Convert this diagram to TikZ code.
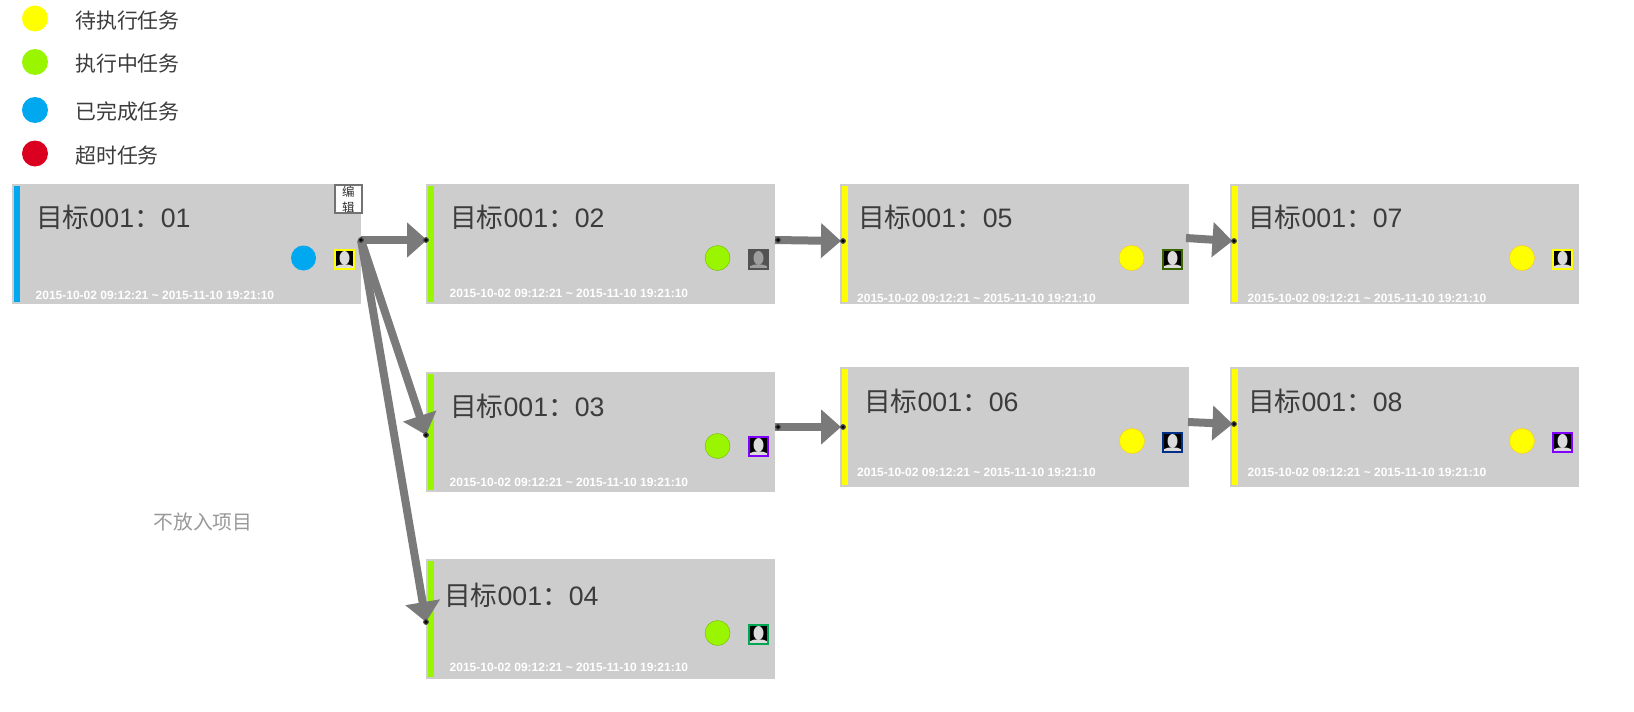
\documentclass[tikz,border=0pt]{standalone}
\usepackage{fontspec}
\setmainfont{Liberation Sans}
\newfontfamily\cjk{Noto Sans CJK SC}
\usetikzlibrary{arrows.meta}
\definecolor{boxgrey}{HTML}{CDCDCD}
\definecolor{linkgrey}{HTML}{7A7A7A}
\definecolor{inkgrey}{HTML}{3C3C3C}
\definecolor{stwait}{HTML}{FFFF00}
\definecolor{strun}{HTML}{99F500}
\definecolor{stdone}{HTML}{00A8F0}
\definecolor{stlate}{HTML}{DC0020}
\definecolor{avgreen}{HTML}{00A651}
\definecolor{avolive}{HTML}{3A6600}
\definecolor{avnavy}{HTML}{002F87}
\definecolor{avpurple}{HTML}{7F00FF}
\tikzset{
  x=1pt,y=-1pt,
  taskbox/.style={fill=boxgrey,draw=none,inner sep=0pt,minimum width=349pt,minimum height=120pt,anchor=north west},
  statusbar/.style={inner sep=0pt,minimum width=5.4pt,minimum height=116pt,anchor=north west},
  title/.style={anchor=west,inner sep=0pt,text=inkgrey,font=\fontsize{26.7}{26.7}\selectfont},
  dates/.style={anchor=west,inner sep=0pt,text=white,font=\fontsize{12}{12}\selectfont\bfseries},
  dot/.style={circle,inner sep=0pt,minimum size=25pt},
  legdot/.style={circle,inner sep=0pt,minimum size=26pt},
  legtext/.style={anchor=west,inner sep=0pt,text=inkgrey,font=\fontsize{20.9}{20.9}\selectfont\cjk},
  avatar/.style={rectangle,inner sep=0pt,minimum size=19pt,line width=2pt,anchor=center,fill=black,
    path picture={
      \fill[#1] ([yshift=1.5pt]path picture bounding box.center) ellipse[x radius=5pt,y radius=7pt];
      \fill[#1] (path picture bounding box.south west) -- ++(0pt,2.5pt) -- ++(5.5pt,2pt) -- ++(8pt,0pt) -- ++(5.5pt,-2pt) -- ++(0pt,-2.5pt) -- cycle;
    }},
  avatar/.default=white!86!black,
  link/.style={draw=linkgrey,line width=8pt,-{Triangle[length=20pt,width=34pt,fill=linkgrey]}},
  pin/.style={circle,fill=black,draw=linkgrey!55!black,line width=1.2pt,inner sep=0pt,minimum size=4.5pt},
}
\begin{document}
\begin{tikzpicture}
\useasboundingbox (0,0) rectangle (1634,712);
\fill[white] (0,0) rectangle (1634,712);
% legend
\node[legdot,fill=stwait] (l1) at (35,18.5) {};
\node[legdot,fill=strun] (l2) at (35,62) {};
\node[legdot,fill=stdone] (l3) at (35,110) {};
\node[legdot,fill=stlate] (l4) at (35,153.5) {};
\node[legtext] (lt1) at (75,21) {待执行任务};
\node[legtext] (lt2) at (75,64) {执行中任务};
\node[legtext] (lt3) at (75,111.5) {已完成任务};
\node[legtext] (lt4) at (75,155.5) {超时任务};
\node[anchor=center,inner sep=0pt,text=black!40,font=\fontsize{19.8}{19.8}\selectfont\cjk] (nofit) at (203,521.5) {不放入项目};
% boxes
\node[taskbox] (b1) at (12,184) {};
\node[taskbox] (b2) at (426,184) {};
\node[taskbox] (b3) at (426,372) {};
\node[taskbox] (b4) at (426,559) {};
\node[taskbox] (b5) at (840,184) {};
\node[taskbox] (b6) at (840,367) {};
\node[taskbox] (b7) at (1230,184) {};
\node[taskbox] (b8) at (1230,367) {};
% status bars
\node[statusbar,fill=stdone] (s1) at (14,186) {};
\node[statusbar,fill=strun] (s2) at (428,186) {};
\node[statusbar,fill=strun] (s3) at (428,374) {};
\node[statusbar,fill=strun] (s4) at (428,561) {};
\node[statusbar,fill=stwait] (s5) at (842,186) {};
\node[statusbar,fill=stwait] (s6) at (842,369) {};
\node[statusbar,fill=stwait] (s7) at (1232,186) {};
\node[statusbar,fill=stwait] (s8) at (1232,369) {};
% titles
\node[title] (t1) at (36,217.5) {{\cjk 目标}001{\cjk ：}01};
\node[title] (t2) at (450,217.5) {{\cjk 目标}001{\cjk ：}02};
\node[title] (t3) at (450,406.5) {{\cjk 目标}001{\cjk ：}03};
\node[title] (t4) at (444,595.5) {{\cjk 目标}001{\cjk ：}04};
\node[title] (t5) at (858,217.5) {{\cjk 目标}001{\cjk ：}05};
\node[title] (t6) at (864,401.5) {{\cjk 目标}001{\cjk ：}06};
\node[title] (t7) at (1248,217.5) {{\cjk 目标}001{\cjk ：}07};
\node[title] (t8) at (1248,401.5) {{\cjk 目标}001{\cjk ：}08};
% dates
\node[dates] (d1) at (35.5,295) {2015-10-02 09:12:21 \textasciitilde{} 2015-11-10 19:21:10};
\node[dates] (d2) at (449.5,293) {2015-10-02 09:12:21 \textasciitilde{} 2015-11-10 19:21:10};
\node[dates] (d3) at (449.5,482) {2015-10-02 09:12:21 \textasciitilde{} 2015-11-10 19:21:10};
\node[dates] (d4) at (449.5,667) {2015-10-02 09:12:21 \textasciitilde{} 2015-11-10 19:21:10};
\node[dates] (d5) at (857,298) {2015-10-02 09:12:21 \textasciitilde{} 2015-11-10 19:21:10};
\node[dates] (d6) at (857,472) {2015-10-02 09:12:21 \textasciitilde{} 2015-11-10 19:21:10};
\node[dates] (d7) at (1247.5,298) {2015-10-02 09:12:21 \textasciitilde{} 2015-11-10 19:21:10};
\node[dates] (d8) at (1247.5,472) {2015-10-02 09:12:21 \textasciitilde{} 2015-11-10 19:21:10};
% status circles
\node[dot,fill=stdone] (c1) at (303.5,258) {};
\node[dot,fill=strun,draw=strun!75!black,line width=.4pt] (c2) at (717.5,258) {};
\node[dot,fill=strun,draw=strun!75!black,line width=.4pt] (c3) at (717.5,446) {};
\node[dot,fill=strun,draw=strun!75!black,line width=.4pt] (c4) at (717.5,633) {};
\node[dot,fill=stwait,draw=stwait!80!red,line width=.4pt] (c5) at (1131.5,258) {};
\node[dot,fill=stwait,draw=stwait!80!red,line width=.4pt] (c6) at (1132,441) {};
\node[dot,fill=stwait,draw=stwait!80!red,line width=.4pt] (c7) at (1522,258) {};
\node[dot,fill=stwait,draw=stwait!80!red,line width=.4pt] (c8) at (1522,441) {};
% avatars
\node[avatar,draw=stwait] (a1) at (344.5,259.5) {};
\node[avatar={black!38},draw=black!68,fill=black!68] (a2) at (758.5,259.5) {};
\node[avatar,draw=avpurple] (a3) at (758.5,446.5) {};
\node[avatar,draw=avgreen] (a4) at (758.5,634.5) {};
\node[avatar,draw=avolive] (a5) at (1172.5,259.5) {};
\node[avatar,draw=avnavy] (a6) at (1172.5,442.5) {};
\node[avatar,draw=stwait] (a7) at (1562.5,259.5) {};
\node[avatar,draw=avpurple] (a8) at (1562.5,442.5) {};
% edit button
\node[rectangle,draw=black!55,fill=white,line width=1.6pt,minimum width=27pt,minimum height=28pt,inner sep=0pt,anchor=north west,
  path picture={\node[anchor=center,inner sep=0pt,text=black!80,align=center,font=\fontsize{12.5}{16}\selectfont\cjk] at ([yshift=-1pt]path picture bounding box.center) {编\\辑};}] (edit) at (334,184) {};
% connection points
\coordinate (p1) at (361,240);
\coordinate (q2) at (427,240);
\coordinate (q3) at (426,435);
\coordinate (q4) at (426,622);
\coordinate (p2) at (775,240);
\coordinate (q5) at (841,241);
\coordinate (p3) at (775,427);
\coordinate (q6) at (841,427);
\coordinate (p5) at (1186,238);
\coordinate (q7) at (1232.5,241);
\coordinate (p6) at (1188,422);
\coordinate (q8) at (1232.5,424);
% connectors
\draw[link] (p1) -- (q2);
\draw[link] (p1) -- (q3);
\draw[link] (p1) -- (q4);
\draw[link] (p2) -- (q5);
\draw[link] (p3) -- (q6);
\draw[link] (p5) -- (q7);
\draw[link] (p6) -- (q8);
\node[pin] at (p1) {};
\node[pin] at ([xshift=-1pt]q2) {};
\node[pin] at (q3) {};
\node[pin] at (q4) {};
\node[pin] at ([xshift=3pt]p2) {};
\node[pin] at ([xshift=2pt]q5) {};
\node[pin] at ([xshift=3pt]p3) {};
\node[pin] at ([xshift=2pt]q6) {};
\node[pin] at ([xshift=1.5pt]q7) {};
\node[pin] at ([xshift=1.5pt]q8) {};
\end{tikzpicture}
\end{document}
